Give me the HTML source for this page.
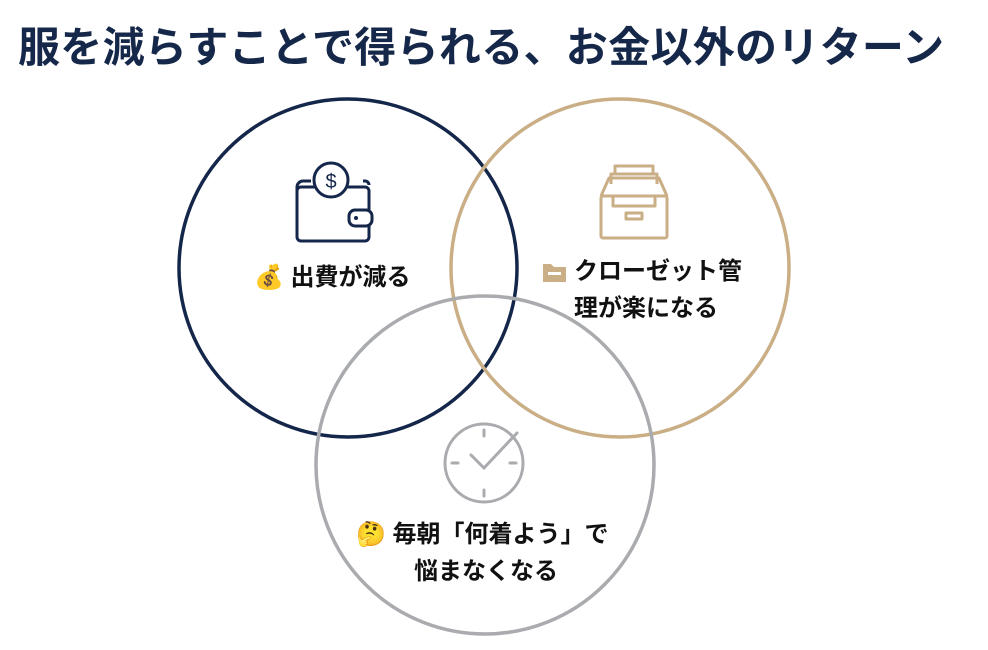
<!DOCTYPE html>
<html><head><meta charset="utf-8"><style>
body{margin:0;width:988px;height:650px;background:#fff;overflow:hidden;position:relative;font-family:"Liberation Sans","Noto Sans CJK JP",sans-serif;}
.t{position:absolute;left:18px;top:14px;font-size:42px;font-weight:bold;color:#16284a;white-space:nowrap;letter-spacing:0.3px}
.l{position:absolute;font-size:24px;font-weight:bold;color:#111;white-space:nowrap;line-height:37px}
</style></head><body>
<div class="t">服を減らすことで得られる、お金以外のリターン</div>
<svg width="988" height="650" style="position:absolute;left:0;top:0">
<circle cx="348" cy="268" r="169" fill="none" stroke="#14264a" stroke-width="3.5"/>
<circle cx="620" cy="268" r="169" fill="none" stroke="#c9ae86" stroke-width="3.5"/>
<circle cx="485" cy="465" r="169" fill="none" stroke="#a9abae" stroke-width="3.5"/>
<!-- wallet -->
<g fill="none" stroke="#14264a" stroke-width="3" stroke-linejoin="round">
<rect x="297" y="187" width="72" height="54" rx="4"/>
<path d="M297 195 v-8 a6 6 0 0 1 6 -6 h8 M363 181 h2 a4 4 0 0 1 4 4"/>
<circle cx="331" cy="180" r="17" fill="#fff"/>
<rect x="349" y="210" width="23" height="16" rx="6" fill="#fff"/>
</g>
<text x="331" y="188" font-size="20" text-anchor="middle" fill="#14264a" font-family="Liberation Sans">$</text>
<circle cx="356" cy="218" r="2" fill="#14264a"/>
<!-- drawer -->
<g fill="none" stroke="#c9ae86" stroke-width="3" stroke-linejoin="round">
<rect x="601" y="196" width="66" height="42" rx="2"/>
<path d="M601 196 l8 -18 h50 l8 18"/>
<path d="M601 196 h12 v10 h42 v-10 h12"/>
<path d="M611 184 v-10 h46 v10 M615 174 v-8 h38 v8"/>
<rect x="626" y="213" width="16" height="6"/>
</g>
<!-- folder -->
<g fill="#c9ae86">
<path d="M543 264 h8 l3 3 h12 v15 h-23 z"/>
</g>
<rect x="548" y="272" width="13" height="3" fill="#fff"/>
<!-- clock -->
<g fill="none" stroke="#a9abae" stroke-width="3" stroke-linecap="round">
<circle cx="484" cy="463" r="39"/>
<path d="M484 430 v6 M484 490 v6 M452 463 h6 M510 463 h6"/>
<path d="M471 455 l13 13 l33 -35"/>
</g>
</svg>
<div class="l" style="left:254px;top:259px">💰 出費が減る</div>
<div class="l" style="left:574px;top:253px">クローゼット管<br>理が楽になる</div>
<div class="l" style="left:356px;top:516px">🤔 毎朝「何着よう」で<br><span style="padding-left:58px">悩まなくなる</span></div>
</body></html>
